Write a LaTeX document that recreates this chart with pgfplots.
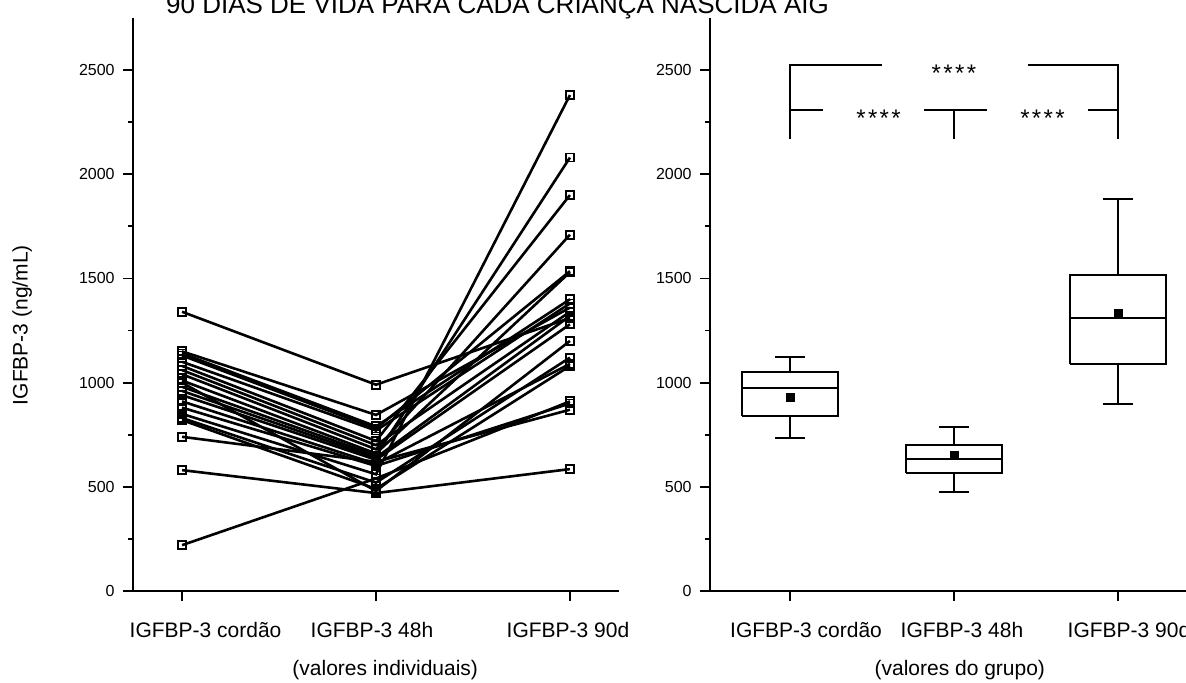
\documentclass[border=0pt]{standalone}
\usepackage{pgfplots}
\pgfplotsset{compat=1.18}
\usepackage{fontspec}
\setmainfont{Liberation Sans}

\pgfplotsset{
  base/.style={
    scale only axis,
    height=286.5pt,
    axis x line*=bottom, axis y line*=left,
    xtick pos=bottom, ytick pos=left,
    ymin=0, ymax=2750,
    ytick={0,500,...,2500},
    minor ytick={250,750,...,2250},
    xtick={0,1,2},
    tick align=outside,
    major tick length=5pt, minor tick length=2.5pt,
    axis line style={line width=1pt, black},
    x axis line style={shorten <=-5pt},
    every tick/.style={black, line width=0.9pt},
    /pgf/number format/assume math mode=true,
    /pgf/number format/1000 sep={},
    yticklabel style={font=\fontsize{8}{9}\selectfont, inner xsep=4pt},
    xticklabel style={font=\fontsize{10.5}{12}\selectfont, yshift=-7pt},
    label style={font=\fontsize{10.5}{12}\selectfont},
    clip=false,
  },
  subj/.style={black, line width=1.3pt, mark=square, mark size=2pt,
    mark options={solid, fill=white, line width=0.9pt}},
  bx/.style={black, line width=1pt, line join=miter, mark=none},
}
\tikzset{ast/.style={font=\fontsize{12}{14}\selectfont}}
\newcommand{\stars}{*\hspace{1.2pt}*\hspace{1.2pt}*\hspace{1.2pt}*}

\begin{document}
\begin{tikzpicture}
\begin{axis}[base, at={(66.5pt,46pt)}, anchor=south west, width=243pt,
  xmin=-0.253, xmax=2.253,
  xticklabels={\hspace*{23.5pt}IGFBP-3 cordão, IGFBP-3 48h\hspace*{4pt}, IGFBP-3 90d\hspace*{2pt}},
  ylabel={IGFBP-3 (ng/mL)},
  ylabel style={at={(axis description cs:-0.228,0.464)}, anchor=center, rotate=0},
  xlabel={(valores individuais)},
  xlabel style={at={(axis description cs:0.519,-0.138)}, anchor=center},
]
\addplot[subj] coordinates {(0,1340) (1,990) (2,1310)};
\addplot[subj] coordinates {(0,1150) (1,845) (2,1360)};
\addplot[subj] coordinates {(0,1140) (1,790) (2,1400)};
\addplot[subj] coordinates {(0,1130) (1,780) (2,1535)};
\addplot[subj] coordinates {(0,1100) (1,770) (2,1380)};
\addplot[subj] coordinates {(0,1080) (1,720) (2,1900)};
\addplot[subj] coordinates {(0,1060) (1,700) (2,1340)};
\addplot[subj] coordinates {(0,1040) (1,680) (2,1710)};
\addplot[subj] coordinates {(0,1010) (1,660) (2,1530)};
\addplot[subj] coordinates {(0,1000) (1,480) (2,1200)};
\addplot[subj] coordinates {(0,980) (1,650) (2,2080)};
\addplot[subj] coordinates {(0,960) (1,640) (2,1320)};
\addplot[subj] coordinates {(0,940) (1,630) (2,1280)};
\addplot[subj] coordinates {(0,910) (1,610) (2,1090)};
\addplot[subj] coordinates {(0,880) (1,600) (2,900)};
\addplot[subj] coordinates {(0,850) (1,560) (2,2380)};
\addplot[subj] coordinates {(0,830) (1,520) (2,1120)};
\addplot[subj] coordinates {(0,820) (1,490) (2,1080)};
\addplot[subj] coordinates {(0,740) (1,620) (2,870)};
\addplot[subj] coordinates {(0,580) (1,470) (2,585)};
\addplot[subj] coordinates {(0,220) (1,540) (2,910)};
\end{axis}

\begin{axis}[base, at={(355pt,46pt)}, anchor=south west, width=242.5pt,
  xmin=-0.488, xmax=2.47,
  xticklabels={\hspace*{16pt}IGFBP-3 cordão, \hspace*{8pt}IGFBP-3 48h, \hspace*{11pt}IGFBP-3 90d},
  xlabel={(valores do grupo)},
  xlabel style={at={(axis description cs:0.515,-0.138)}, anchor=center},
]
% box cordão
\addplot[bx] coordinates {(-0.29,841) (0.29,841) (0.29,1050) (-0.29,1050) (-0.29,841)};
\addplot[bx] coordinates {(-0.29,974) (0.29,974)};
\addplot[bx] coordinates {(0,1050) (0,1125)};
\addplot[bx] coordinates {(-0.09,1125) (0.09,1125)};
\addplot[bx] coordinates {(0,841) (0,734)};
\addplot[bx] coordinates {(-0.09,734) (0.09,734)};
% box 48h
\addplot[bx] coordinates {(0.71,566) (1.29,566) (1.29,703) (0.71,703) (0.71,566)};
\addplot[bx] coordinates {(0.71,635) (1.29,635)};
\addplot[bx] coordinates {(1,703) (1,788)};
\addplot[bx] coordinates {(0.91,788) (1.09,788)};
\addplot[bx] coordinates {(1,566) (1,473)};
\addplot[bx] coordinates {(0.91,473) (1.09,473)};
% box 90d
\addplot[bx] coordinates {(1.705,1087) (2.295,1087) (2.295,1518) (1.705,1518) (1.705,1087)};
\addplot[bx] coordinates {(1.705,1311) (2.295,1311)};
\addplot[bx] coordinates {(2,1518) (2,1883)};
\addplot[bx] coordinates {(1.91,1883) (2.09,1883)};
\addplot[bx] coordinates {(2,1087) (2,899)};
\addplot[bx] coordinates {(1.91,899) (2.09,899)};
% means
\addplot[only marks, mark=square*, mark size=2pt, black]
  coordinates {(0,929) (1,652) (2,1332)};
% significance brackets
\addplot[bx] coordinates {(0,2167) (0,2525) (0.56,2525)};
\addplot[bx] coordinates {(1.45,2525) (2,2525) (2,2167)};
\addplot[bx] coordinates {(0,2308) (0.2,2308)};
\addplot[bx] coordinates {(0.82,2308) (1.2,2308)};
\addplot[bx] coordinates {(1,2308) (1,2167)};
\addplot[bx] coordinates {(1.82,2308) (2,2308)};
\node[ast] at (axis cs:1,2485) {\stars};
\node[ast] at (axis cs:0.54,2270) {\stars};
\node[ast] at (axis cs:1.54,2270) {\stars};
\end{axis}

\node[anchor=base, font=\fontsize{13}{15}\selectfont] at (248.75pt,334.5pt)
  {90 DIAS DE VIDA PARA CADA CRIANÇA NASCIDA AIG};

\pgfresetboundingbox
\path[use as bounding box] (0,0) rectangle (593pt,341.5pt);
\end{tikzpicture}
\end{document}
